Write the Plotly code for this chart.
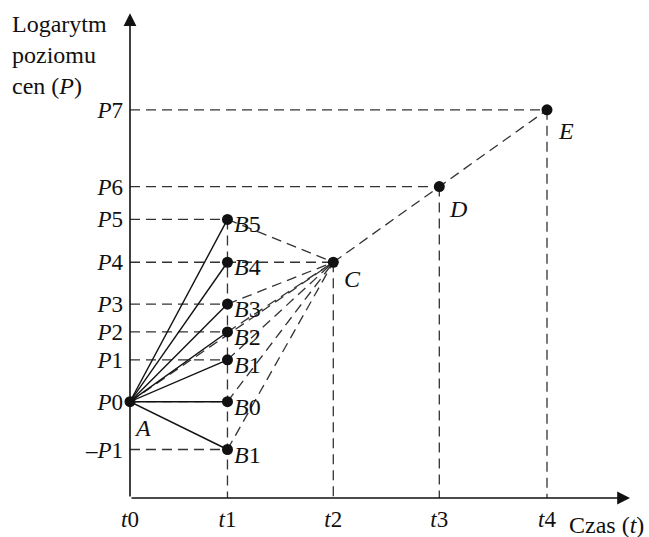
import plotly.graph_objects as go

# Time points on the horizontal axis
t_vals = [0.0, 0.935, 1.95, 2.967, 4.0]
t_text = ["<i>t</i>0", "<i>t</i>1", "<i>t</i>2", "<i>t</i>3", "<i>t</i>4"]

# Price-level ticks on the vertical axis (log scale units)
p_vals = [-4.8, 0.0, 4.2, 7.0, 9.8, 14.0, 18.3, 21.6, 29.3]
p_text = ["–<i>P</i>1", "<i>P</i>0", "<i>P</i>1", "<i>P</i>2", "<i>P</i>3",
          "<i>P</i>4", "<i>P</i>5", "<i>P</i>6", "<i>P</i>7"]

# Possible price levels B at time t1
b_levels = [18.3, 14.0, 9.8, 7.0, 4.2, 0.0, -4.8]
b_text = ["<i>B</i>5", "<i>B</i>4", "<i>B</i>3", "<i>B</i>2",
          "<i>B</i>1", "<i>B</i>0", "<i>B</i>1"]

# Starting point A and the long-run path C -> D -> E
a_point = (0.0, 0.0)
path_t = [1.95, 2.967, 4.0]
path_p = [14.0, 21.6, 29.3]
path_text = ["<i>C</i>", "<i>D</i>", "<i>E</i>"]

FONT = "Liberation Serif, Times New Roman, serif"
INK = "#111111"
DASH_INK = "#333333"
DASH = "10px,6px"

# plot geometry
X_UNIT = 104.25   # px per time unit
Y_UNIT = 10.0     # px per price unit
ML, MR, MT, MB = 130, 8, 5, 37
W, H = 649, 537
x_max = (W - ML - MR) / X_UNIT
y_min = -9.67
y_max = y_min + (H - MT - MB) / Y_UNIT

t1 = t_vals[1]
c_t, c_p = path_t[0], path_p[0]


def segments(pairs):
    xs, ys = [], []
    for (x0, y0), (x1, y1) in pairs:
        xs += [x0, x1, None]
        ys += [y0, y1, None]
    return xs, ys


fig = go.Figure()

# horizontal guides from the price axis to each point
h_pairs = [((0.0, p), (t1, p)) for p in b_levels if p != 14.0]
h_pairs.append(((0.0, 14.0), (c_t, 14.0)))
for tt, pp in zip(path_t[1:], path_p[1:]):
    h_pairs.append(((0.0, pp), (tt, pp)))
# vertical guides down to the time axis
v_pairs = [((t1, max(b_levels)), (t1, y_min))]
for tt, pp in zip(path_t, path_p):
    v_pairs.append(((tt, pp), (tt, y_min)))
gx, gy = segments(h_pairs + v_pairs)
fig.add_trace(go.Scatter(x=gx, y=gy, mode="lines",
                         line=dict(color=DASH_INK, width=1.3, dash=DASH),
                         hoverinfo="skip"))

# dashed adjustment paths from A and every B towards C
c_pairs = [((t1, p), (c_t, c_p)) for p in b_levels if p != 14.0]
c_pairs.append((a_point, (c_t, c_p)))
cx, cy = segments(c_pairs)
fig.add_trace(go.Scatter(x=cx, y=cy, mode="lines",
                         line=dict(color=DASH_INK, width=1.3, dash=DASH),
                         hoverinfo="skip"))

# long-run path C -> D -> E
fig.add_trace(go.Scatter(x=path_t, y=path_p, mode="lines",
                         line=dict(color=DASH_INK, width=1.3, dash=DASH),
                         hoverinfo="skip"))

# solid lines from A to every B
sx, sy = segments([(a_point, (t1, p)) for p in b_levels])
fig.add_trace(go.Scatter(x=sx, y=sy, mode="lines",
                         line=dict(color=INK, width=1.4),
                         hoverinfo="skip"))

# points
fig.add_trace(go.Scatter(
    x=[a_point[0]] + [t1] * len(b_levels) + path_t,
    y=[a_point[1]] + b_levels + path_p,
    mode="markers", marker=dict(color=INK, size=11),
    cliponaxis=False, hoverinfo="skip"))

annotations = []
lab_font = dict(family=FONT, size=24, color=INK)
for p, txt in zip(b_levels, b_text):
    annotations.append(dict(x=t1, y=p, text=txt, showarrow=False,
                            xanchor="left", yanchor="middle",
                            xshift=5, yshift=-5, font=lab_font))
annotations.append(dict(x=a_point[0], y=a_point[1], text="<i>A</i>",
                        showarrow=False, xanchor="center", yanchor="middle",
                        xshift=12, yshift=-26, font=lab_font))
for tt, pp, txt, dy in zip(path_t, path_p, path_text, [-17, -22, -21]):
    annotations.append(dict(x=tt, y=pp, text=txt, showarrow=False,
                            xanchor="center", yanchor="middle",
                            xshift=19, yshift=dy, font=lab_font))

# axis arrows
annotations.append(dict(x=4.796, y=y_min, ax=0.0, ay=y_min, axref="x", ayref="y",
                        text="", showarrow=True, arrowhead=2, arrowsize=1.6,
                        arrowwidth=1.6, arrowcolor=INK, standoff=0))
annotations.append(dict(x=0.0, y=39.0, ax=0.0, ay=y_min, axref="x", ayref="y",
                        text="", showarrow=True, arrowhead=2, arrowsize=1.6,
                        arrowwidth=1.6, arrowcolor=INK, standoff=0))

# axis titles
annotations.append(dict(xref="paper", yref="paper", x=-ML / (W - ML - MR), y=1.0,
                        xanchor="left", yanchor="top", align="left",
                        text="Logarytm<br>poziomu<br>cen (<i>P</i>)",
                        showarrow=False, font=lab_font, xshift=10, yshift=-4))
annotations.append(dict(xref="paper", x=1.0, y=y_min, xanchor="right", yanchor="middle",
                        text="Czas (<i>t</i>)", showarrow=False, font=lab_font,
                        xshift=5, yshift=-27))

fig.update_layout(
    width=W, height=H,
    margin=dict(l=ML, r=MR, t=MT, b=MB),
    paper_bgcolor="white", plot_bgcolor="white",
    showlegend=False,
    annotations=annotations,
    xaxis=dict(range=[0, x_max], showgrid=False, zeroline=False, showline=False,
               tickvals=t_vals, ticktext=t_text, ticks="",
               tickfont=dict(family=FONT, size=23, color=INK),
               ticklabelstandoff=5, fixedrange=True),
    yaxis=dict(range=[y_min, y_max], showgrid=False, zeroline=False, showline=False,
               tickvals=p_vals, ticktext=p_text, ticks="",
               tickfont=dict(family=FONT, size=23, color=INK),
               ticklabelstandoff=6, fixedrange=True),
)

fig.write_html("out.html")
